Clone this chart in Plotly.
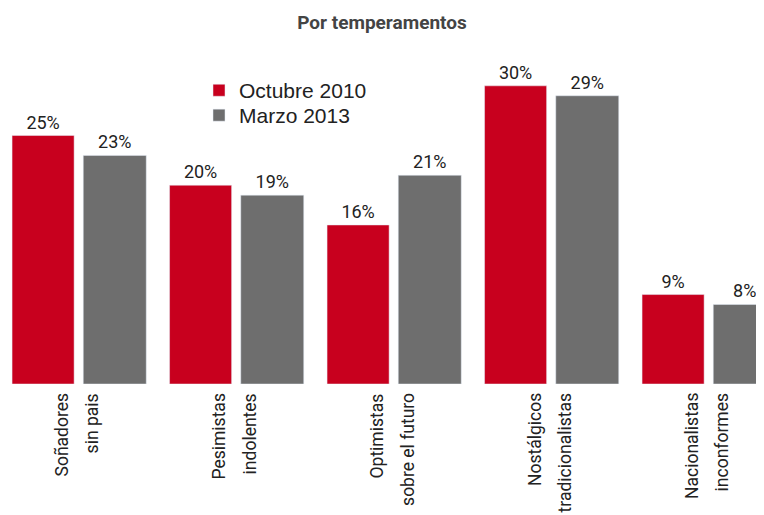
import plotly.graph_objects as go

# data
categorias = ["Soñadores", "Pesimistas", "Optimistas", "Nostálgicos", "Nacionalistas"]
segunda_linea = ["sin pais", "indolentes", "sobre el futuro", "tradicionalistas", "inconformes"]
octubre_2010 = [25, 20, 16, 30, 9]
marzo_2013 = [23, 19, 21, 29, 8]

ROJO = "#c8001e"
GRIS = "#6e6e6e"
FUENTE = "Roboto"
xs = list(range(len(categorias)))

fig = go.Figure()
fig.add_trace(go.Bar(
    x=xs, y=octubre_2010, name="Octubre 2010", legend="legend", showlegend=True,
    marker=dict(color=ROJO), offset=-0.425, width=0.394,
    texttemplate="%{y}%", textposition="outside", cliponaxis=False,
    textfont=dict(family=FUENTE, size=18, color="#222"),
))
fig.add_trace(go.Bar(
    x=xs, y=marzo_2013, name="Marzo 2013", legend="legend2", showlegend=True,
    marker=dict(color=GRIS), offset=0.027, width=0.4,
    texttemplate="%{y}%", textposition="outside", cliponaxis=False,
    textfont=dict(family=FUENTE, size=18, color="#222"),
))

# category labels, rotated, two lines under each pair of bars
for i in xs:
    for texto, dx in ((categorias[i], -0.108), (segunda_linea[i], 0.085)):
        fig.add_annotation(
            x=i + dx, y=0, xref="x", yref="y", text=texto, showarrow=False,
            textangle=-90, xanchor="center", yanchor="top", yshift=-7,
            font=dict(family=FUENTE, size=17.5, color="#222"),
        )

fuente_leyenda = dict(family="Liberation Sans", size=21, color="#222")

fig.update_layout(
    width=764, height=515,
    margin=dict(l=0, r=0, t=48, b=139),
    paper_bgcolor="white", plot_bgcolor="white",
    barmode="overlay", showlegend=True,
    title=dict(text="<b>Por temperamentos</b>", x=0.4895, xanchor="center",
               y=0.972, yanchor="middle",
               font=dict(family=FUENTE, size=19, color="#444")),
    legend=dict(x=0.25, y=0.957, xanchor="left", yanchor="top",
                bgcolor="rgba(0,0,0,0)", font=fuente_leyenda, visible=True),
    legend2=dict(x=0.25, y=0.881, xanchor="left", yanchor="top",
                 bgcolor="rgba(0,0,0,0)", font=fuente_leyenda, visible=True),
    xaxis=dict(range=[-0.4508, 4.400], showticklabels=False, showgrid=False,
               zeroline=False, showline=False, ticks=""),
    yaxis=dict(range=[0, 33], visible=False),
)

fig.write_html("out.html")
